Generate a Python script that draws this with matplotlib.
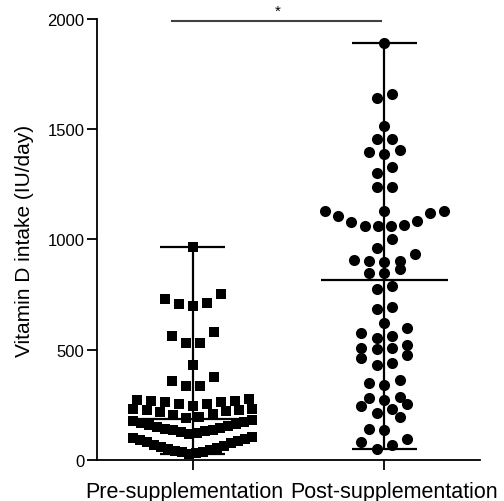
import numpy as np
import matplotlib
matplotlib.use("Agg")
import matplotlib.pyplot as plt
from matplotlib.transforms import ScaledTranslation

plt.rcParams['font.family'] = ['Liberation Sans', 'DejaVu Sans']

# categories and values (IU/day)
groups = ["Pre-supplementation", "Post-supplementation"]

pre = [967,
       698, 706, 712, 730, 751,
       529, 529, 564, 582,
       431,
       337, 337, 357, 378,
       246, 252, 252, 262, 262, 268, 268, 274, 275,
       190, 196, 204, 210, 216, 220, 226, 228, 231, 233,
       118, 122, 126, 130, 134, 138, 142, 146, 150, 154, 158, 162, 167, 172, 177, 182,
       25, 30, 34, 38, 42, 46, 50, 55, 60, 65, 70, 75, 80, 85, 90, 95, 100, 105]

post = [50, 68, 83, 95, 135, 139, 194, 213, 233, 243,
        254, 272, 281, 286, 341, 349, 364, 429, 440, 464,
        476, 505, 506, 509, 522, 553, 564, 576, 597, 623,
        685, 692, 776, 790, 847, 848, 866, 897, 904, 904,
        908, 933, 961, 1000, 1060, 1061, 1061, 1064, 1079, 1084,
        1105, 1121, 1128, 1128, 1131, 1238, 1238, 1303, 1330, 1386,
        1397, 1407, 1454, 1454, 1515, 1640, 1658, 1890]

# row bins used for the Prism-like scatter layout
pre_bins = [112, 186, 240, 300, 400, 480, 620, 850]
post_bins = [110, 205, 260, 300, 400, 490, 540, 610, 650, 720, 820, 880,
             950, 1040, 1130, 1200, 1280, 1350, 1430, 1480, 1580, 1700]


def scatter_offsets(values, edges, step, maxw):
    # place points of one bin side by side, lowest in the middle
    vals = np.asarray(values, dtype=float)
    offs = np.zeros(len(vals))
    rows = np.digitize(vals, edges)
    for r in np.unique(rows):
        ids = np.where(rows == r)[0]
        ids = ids[np.argsort(vals[ids], kind="stable")]
        n = len(ids)
        s = step if n < 2 else min(step, maxw / (n - 1))
        if n % 2:
            slots = [0]
            for k in range(1, n // 2 + 1):
                slots += [-k, k]
        else:
            slots = []
            for k in range(n // 2):
                slots += [-(k + 0.5), k + 0.5]
        for i, sl in zip(ids, slots):
            offs[i] = sl * s
    return offs


fig = plt.figure(figsize=(5.04, 5.02), dpi=100)
ax = fig.add_axes([0.1925, 0.0817, 0.76, 0.8785])

settings = [(pre, pre_bins, 's', 7.0, 0.073),
            (post, post_bins, 'o', 8.0, 0.08)]

for i, (vals, bins, mk, ms, step) in enumerate(settings):
    vals = np.asarray(vals)
    x = i + scatter_offsets(vals, bins, step, 0.62)
    lo, hi, med = vals.min(), vals.max(), np.median(vals)
    ax.vlines(i, lo, hi, color='black', lw=1.6, zorder=2)
    ax.hlines([lo, hi], i - 0.17, i + 0.17, color='black', lw=1.6, zorder=2)
    ax.hlines(med, i - 0.33, i + 0.33, color='black', lw=1.6, zorder=2)
    ax.plot(x, vals, mk, color='black', ms=ms, mew=0, zorder=3, clip_on=False)

# significance bar
ax.plot([-0.11, 0.985], [1990, 1990], color='#404040', lw=1.5, clip_on=False)
ax.text(0.445, 2004, "*", ha='center', va='bottom', fontsize=11)

ax.set_xlim(-0.5, 1.5)
ax.set_ylim(0, 2000)
ax.set_xticks([0, 1])
ax.set_xticklabels(groups, fontsize=15.5)
ax.set_yticks([0, 500, 1000, 1500, 2000])
ax.tick_params(axis='y', length=7, width=1.3, pad=2, labelsize=12)
ax.tick_params(axis='x', length=7, width=1.3, pad=8)
ax.set_ylabel("Vitamin D intake (IU/day)", fontsize=15)
ax.yaxis.set_label_coords(-0.165, 0.5)

# nudge the two long category labels apart so they do not touch
for lab, dx in zip(ax.get_xticklabels(), [-8, 10]):
    lab.set_transform(lab.get_transform() + ScaledTranslation(dx / 100, 0, fig.dpi_scale_trans))

for side in ['top', 'right']:
    ax.spines[side].set_visible(False)
for side in ['left', 'bottom']:
    ax.spines[side].set_linewidth(1.3)

fig.savefig("out.png", dpi=100)
